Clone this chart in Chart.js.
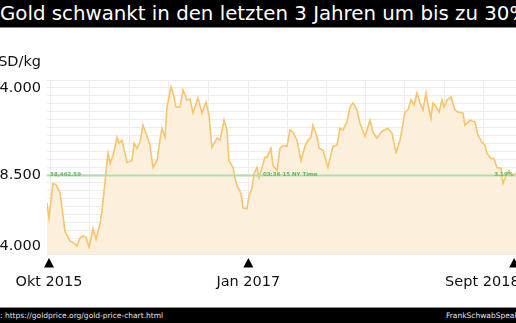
<!DOCTYPE html>
<html><head><meta charset="utf-8">
<script src="https://cdn.jsdelivr.net/npm/chart.js@4.4.1/dist/chart.umd.min.js"></script>
<style>
html,body{margin:0;padding:0;background:#fff;}
#wrap{position:relative;width:516px;height:323px;overflow:hidden;background:#fff;}
#c{position:absolute;left:0;top:0;}
.bar{position:absolute;left:0;width:516px;background:#000;white-space:nowrap;overflow:hidden;font-family:"DejaVu Sans",sans-serif;}
#title{top:0;height:27px;border-bottom:1px solid #888;font-size:19.8px;line-height:28px;color:#fff;}
#title span{position:absolute;left:0;top:0;}
#foot{top:307px;height:16px;border-top:1px solid #888;font-size:7.5px;line-height:16px;color:#e6e6e6;}
#foot .l{position:absolute;left:0;top:0;}
#foot .r{position:absolute;left:446px;top:0;}
#unit{position:absolute;right:475px;top:52px;font-size:14.5px;line-height:18px;font-family:"DejaVu Sans",sans-serif;white-space:nowrap;color:#111;}
</style></head>
<body>
<div id="wrap">
<canvas id="c" width="516" height="323"></canvas>
<div id="title" class="bar"><span>Gold schwankt in den letzten 3 Jahren um bis zu 30%</span></div>
<div id="unit">USD/kg</div>
<div id="foot" class="bar"><span class="l">: https://goldprice.org/gold-price-chart.html</span><span class="r">FrankSchwabSpeaks</span></div>
</div>
<script>
// months since Oct 2015 (decimal)
const months = [-0.15,0,0.30,0.53,0.83,1.20,1.58,1.88,2.11,2.33,2.56,2.78,3.01,3.31,3.54,3.84,3.99,4.44,4.59,4.82,5.12,5.27,5.49,5.87,6.25,6.40,6.62,6.85,7.07,7.30,7.60,7.83,8.13,8.35,8.50,8.73,8.88,9.18,9.33,9.56,9.86,10.08,10.38,10.61,10.84,11.21,11.51,11.81,12.04,12.26,12.64,12.87,13.17,13.39,13.54,13.85,14.00,14.15,14.45,14.60,14.90,15.05,15.27,15.43,15.65,15.80,16.03,16.25,16.40,16.70,16.85,17.16,17.38,17.61,17.91,18.13,18.36,18.66,18.96,19.26,19.49,19.71,19.86,20.17,20.32,20.62,20.99,21.37,21.67,21.90,22.12,22.42,22.65,22.87,23.18,23.40,23.78,24.15,24.38,24.68,25.06,25.51,25.81,26.11,26.41,26.79,27.01,27.24,27.47,27.69,27.92,28.14,28.37,28.52,28.74,28.89,29.19,29.35,29.57,29.72,29.95,30.25,30.55,30.77,31.15,31.30,31.68,32.05,32.28,32.58,32.81,32.96,33.26,33.48,33.71,34.01,34.16,34.39,34.61,34.84,35.14];
const prices = [36740,35780,37950,37890,37380,34960,34320,34190,34000,34510,34640,34570,33940,35080,34450,35400,36230,39860,39220,39730,40880,40500,40690,39290,39410,40500,40180,40560,41640,41130,40370,38970,39410,40690,41450,40880,42790,44060,43680,42790,42790,43870,43240,43300,42410,43360,42410,43110,42280,40240,40820,40690,41960,41330,39410,38970,38330,37820,37310,36420,36360,37190,37630,38590,38970,38330,38970,39610,39610,40180,39100,38780,40180,40370,40310,41330,41200,40690,39410,40310,40690,40880,41640,40880,40180,40050,38970,40310,40370,41450,41330,41840,42790,43050,42600,41770,40940,41960,41200,40820,41260,41450,41130,39920,40690,42470,42600,43240,42920,43680,43050,42600,43680,42920,42090,43050,42730,42470,43240,42790,43240,43430,42600,42470,42410,41640,41960,41840,41010,40560,40370,39860,39540,39540,38970,38910,37950,38460,38780,38460,38590];
const averagePrice = 38462.59;
const yMin = 33500, yMax = 44500, yGridStep = 500;
const yTickValues = [34000, 38500, 44000];
const xTickValues = [0, 15, 35];
const xTickLabels = ['Okt 2015', 'Jan 2017', 'Sept 2018'];
const xTickAlign = ['center', 'center', 'right'];
const gridMonths = [0.08,3.01,6.02,8.95,11.96,14.97,17.91,20.84,23.78,26.71,29.72,32.66];
const noteTexts = ['38,462.59', '03:36 15 NY Time', '3.19%'];
const noteMonths = [0.08, 16.1, 33.5];

const X_MIN = -0.15, X_MAX = 35.14;
const FONT = '"DejaVu Sans", sans-serif';

const deco = {
  id: 'deco',
  beforeDatasetsDraw(chart) {
    const {ctx, chartArea, scales} = chart;
    ctx.save();
    ctx.strokeStyle = '#ececec';
    ctx.lineWidth = 1;
    gridMonths.forEach(m => {
      const x = Math.round(scales.x.getPixelForValue(m)) + 0.5;
      ctx.beginPath(); ctx.moveTo(x, chartArea.top); ctx.lineTo(x, chartArea.bottom); ctx.stroke();
    });
    ctx.restore();
  },
  afterDatasetsDraw(chart) {
    const {ctx, chartArea, scales} = chart;
    ctx.save();
    ctx.fillStyle = '#62b862';
    ctx.font = 'bold 5.5px ' + FONT;
    ctx.textBaseline = 'alphabetic';
    const yAvg = scales.y.getPixelForValue(averagePrice);
    noteTexts.forEach((t, i) => {
      ctx.fillText(t, scales.x.getPixelForValue(noteMonths[i]), yAvg);
    });
    ctx.fillStyle = '#000';
    ctx.font = '14.5px ' + FONT;
    ctx.textBaseline = 'middle';
    xTickValues.forEach((v, i) => {
      const x = scales.x.getPixelForValue(v);
      const top = chartArea.bottom + 4;
      ctx.beginPath();
      ctx.moveTo(x, top); ctx.lineTo(x + 5, top + 9.5); ctx.lineTo(x - 5, top + 9.5); ctx.closePath();
      ctx.fill();
      ctx.textAlign = xTickAlign[i];
      ctx.fillStyle = '#111';
      ctx.fillText(xTickLabels[i], xTickAlign[i] === 'right' ? x + 5.5 : x, chartArea.bottom + 28);
      ctx.fillStyle = '#000';
    });
    ctx.restore();
  }
};

new Chart(document.getElementById('c'), {
  type: 'line',
  data: {
    datasets: [
      {
        data: months.map((m, i) => ({x: m, y: prices[i]})),
        borderColor: '#f7c46c', borderWidth: 1.6, backgroundColor: '#fcf0dc',
        fill: 'start', pointRadius: 0, tension: 0, order: 1
      },
      {
        data: [{x: X_MIN, y: averagePrice}, {x: X_MAX, y: averagePrice}],
        borderColor: '#aee0a6', borderWidth: 2, pointRadius: 0, fill: false, order: 0
      }
    ]
  },
  options: {
    responsive: false, animation: false,
    layout: {autoPadding: false, padding: {top: 80, right: 0, left: 0, bottom: 0}},
    plugins: {legend: {display: false}, tooltip: {enabled: false}},
    scales: {
      x: {
        type: 'linear', min: X_MIN, max: X_MAX,
        afterBuildTicks: s => { s.ticks = xTickValues.map(v => ({value: v})); },
        afterFit: s => { s.height = 69; s.paddingLeft = 0; s.paddingRight = 0; },
        grid: {display: false}, border: {display: false},
        ticks: {display: false}
      },
      y: {
        type: 'linear', min: yMin, max: yMax,
        afterBuildTicks: s => {
          const t = [];
          for (let v = yMin; v <= yMax; v += yGridStep) t.push({value: v});
          s.ticks = t;
        },
        afterFit: s => { s.width = 47; s.paddingTop = 0; s.paddingBottom = 0; },
        border: {display: false},
        grid: {drawTicks: false, color: '#ececec'},
        ticks: {
          padding: 6, color: '#111', autoSkip: false,
          font: {family: FONT, size: 14.5},
          callback: v => yTickValues.includes(v) ? String(v).replace(/\B(?=(\d{3})+(?!\d))/g, '.') : ''
        }
      }
    }
  },
  plugins: [deco]
});
</script>
</body></html>
